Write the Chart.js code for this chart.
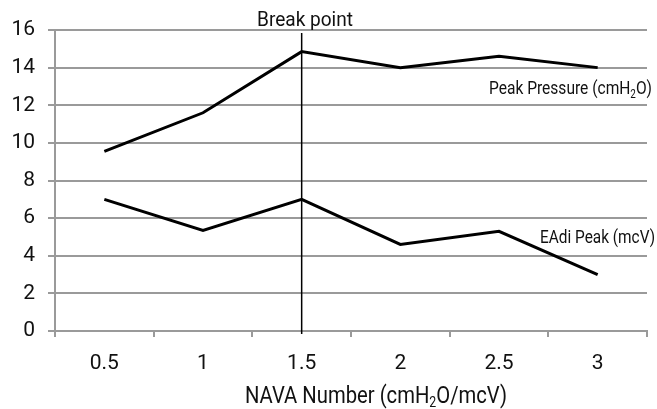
<!DOCTYPE html>
<html>
<head>
<meta charset="utf-8">
<script src="https://cdn.jsdelivr.net/npm/chart.js@4.4.0/dist/chart.umd.min.js"></script>
<style>
html,body{margin:0;padding:0;background:#fff;}
#wrap{width:657px;height:409px;position:relative;}
</style>
</head>
<body>
<div id="wrap"><canvas id="c" width="657" height="409"></canvas></div>
<script>
const categories = ["0.5", "1", "1.5", "2", "2.5", "3"];
const peakPressure = [9.55, 11.6, 14.85, 14.0, 14.6, 14.0];
const eadiPeak = [7.0, 5.35, 7.0, 4.6, 5.3, 3.0];
const yTicks = [0, 2, 4, 6, 8, 10, 12, 14, 16];
const breakCategory = "1.5";

const FONT = "Roboto, 'Liberation Sans', sans-serif";
const GRID = '#9a9a9a';

function drawSubText(ctx, parts, x, y, size, targetWidth) {
  ctx.save();
  ctx.textBaseline = 'middle';
  ctx.textAlign = 'left';
  let total = 0;
  const widths = parts.map(p => {
    ctx.font = (p[1] ? Math.round(size * 0.62) : size) + 'px ' + FONT;
    const w = ctx.measureText(p[0]).width;
    total += w;
    return w;
  });
  const sx = targetWidth ? targetWidth / total : 1;
  ctx.translate(x, y);
  ctx.scale(sx, 1);
  let cx = 0;
  parts.forEach((p, i) => {
    ctx.font = (p[1] ? Math.round(size * 0.62) : size) + 'px ' + FONT;
    ctx.fillText(p[0], cx, p[1] ? size * 0.3 : 0);
    cx += widths[i];
  });
  ctx.restore();
}

const annot = {
  id: 'annot',
  afterDatasetsDraw(chart) {
    const ctx = chart.ctx;
    const xs = chart.scales.x, ys = chart.scales.y;
    const bx = xs.getPixelForValue(categories.indexOf(breakCategory));
    ctx.save();
    ctx.strokeStyle = '#000';
    ctx.lineWidth = 1.5;
    ctx.beginPath();
    ctx.moveTo(bx, 33);
    ctx.lineTo(bx, ys.bottom + 3);
    ctx.stroke();
    ctx.fillStyle = '#111';
    drawSubText(ctx, [["Break point", false]], 257, 21, 21, 96);
    drawSubText(ctx, [["Peak Pressure (cmH", false], ["2", true], ["O)", false]], 489, 89, 19, 163);
    drawSubText(ctx, [["EAdi Peak (mcV)", false]], 540, 238, 18, 115);
    drawSubText(ctx, [["NAVA Number (cmH", false], ["2", true], ["O/mcV)", false]], 245, 397, 23, 262);
    ctx.restore();
  }
};

new Chart(document.getElementById('c'), {
  type: 'line',
  data: {
    labels: categories,
    datasets: [
      { label: 'Peak Pressure (cmH2O)', data: peakPressure, borderColor: '#000', borderWidth: 3, pointRadius: 0, tension: 0, fill: false },
      { label: 'EAdi Peak (mcV)', data: eadiPeak, borderColor: '#000', borderWidth: 3, pointRadius: 0, tension: 0, fill: false }
    ]
  },
  options: {
    responsive: false,
    animation: false,
    layout: { padding: { top: 30, right: 10, left: 0, bottom: 0 } },
    plugins: { legend: { display: false }, tooltip: { enabled: false } },
    scales: {
      x: {
        type: 'category',
        offset: true,
        grid: { offset: true, drawOnChartArea: false, drawTicks: true, tickLength: 6, color: GRID, lineWidth: 2 },
        border: { color: GRID, width: 2 },
        ticks: { color: '#111', font: { family: FONT, size: 21 }, padding: 14, maxRotation: 0 },
        afterFit(s) { s.height = 78; }
      },
      y: {
        min: 0, max: 16,
        afterBuildTicks(s) { s.ticks = yTicks.map(v => ({ value: v })); },
        grid: { color: GRID, lineWidth: 2, tickLength: 7 },
        border: { color: GRID, width: 2 },
        ticks: { color: '#111', font: { family: FONT, size: 21 }, padding: 13 },
        afterFit(s) { s.width = 55; }
      }
    }
  },
  plugins: [annot]
});
</script>
</body>
</html>
